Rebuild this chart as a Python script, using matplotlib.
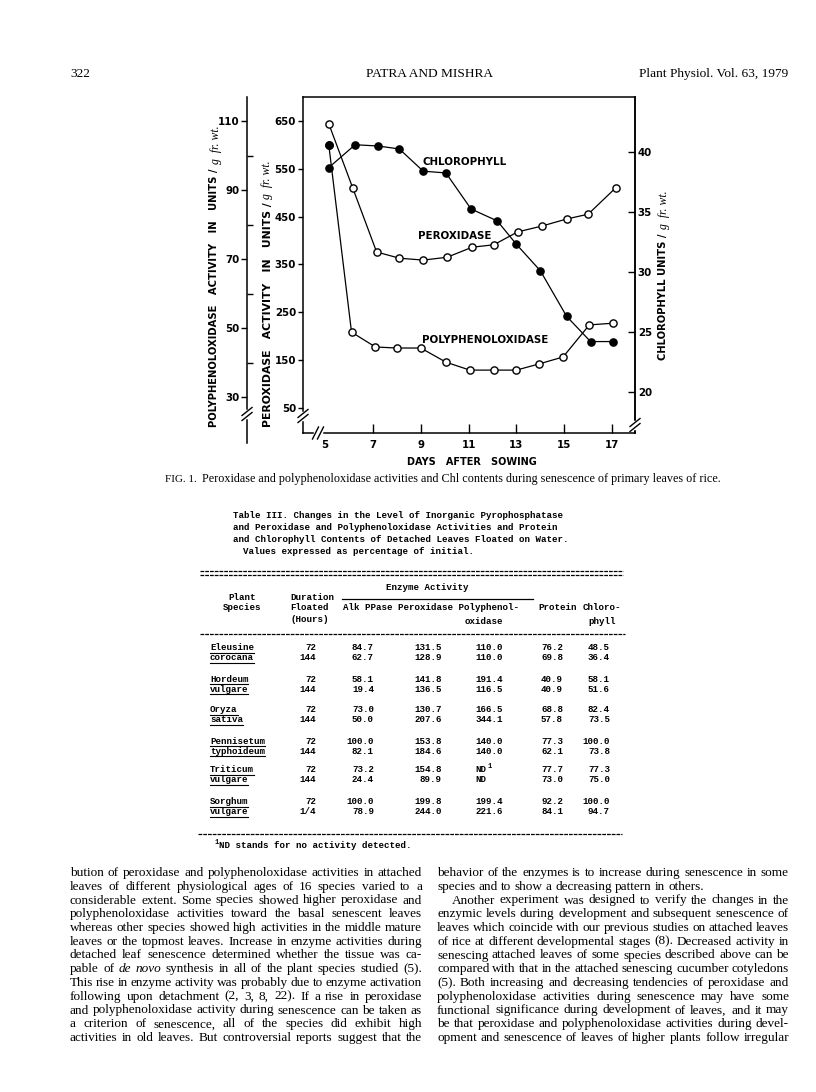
import statistics
import matplotlib
matplotlib.use("Agg")
import matplotlib.pyplot as plt
from matplotlib.lines import Line2D

plt.rcParams['mathtext.fontset'] = 'stix'

# ---------------- data (Fig. 1) ----------------
days_chl = [5.15, 6.25, 7.2, 8.1, 9.1, 10.05, 11.1, 12.2, 13.0, 14.0, 15.1, 16.1, 17.05]
chlorophyll = [38.7, 40.6, 40.5, 40.25, 38.4, 38.25, 35.25, 34.25, 32.3, 30.1, 26.3, 24.2, 24.2]
days_per = [5.15, 6.15, 7.15, 8.1, 9.1, 10.1, 11.15, 12.05, 13.05, 14.05, 15.1, 16.0, 17.15]
peroxidase = [644, 510, 376, 363, 359, 365, 386, 391, 418, 430, 445, 455, 510]
days_ppo = [5.15, 6.1, 7.1, 8.0, 9.0, 10.05, 11.05, 12.05, 13.0, 13.95, 14.95, 16.05, 17.05]
ppo = [103.0, 48.8, 44.5, 44.2, 44.2, 40.1, 37.8, 37.8, 37.8, 39.6, 41.6, 50.9, 51.4]

x_ticks = [5, 7, 9, 11, 13, 15, 17]
per_ticks = [50, 150, 250, 350, 450, 550, 650]
ppo_ticks = [30, 50, 70, 90, 110]
ppo_minor = [40, 60, 80, 100]
chl_ticks = [20, 25, 30, 35, 40]

# ---------------- data (Table III) ----------------
genus = ["Eleusine", "Hordeum", "Oryza", "Pennisetum", "Triticum", "Sorghum"]
epithet = ["corocana", "vulgare", "sativa", "typhoideum", "vulgare", "vulgare"]
duration = [["72", "144"], ["72", "144"], ["72", "144"], ["72", "144"], ["72", "144"], ["72", "1/4"]]
alk_ppase = [["84.7", "62.7"], ["58.1", "19.4"], ["73.0", "50.0"], ["100.0", "82.1"], ["73.2", "24.4"], ["100.0", "78.9"]]
perox_t = [["131.5", "128.9"], ["141.8", "136.5"], ["130.7", "207.6"], ["153.8", "184.6"], ["154.8", "89.9"], ["199.8", "244.0"]]
ppo_t = [["110.0", "110.0"], ["191.4", "116.5"], ["166.5", "344.1"], ["140.0", "140.0"], ["ND", "ND"], ["199.4", "221.6"]]
protein = [["76.2", "69.8"], ["40.9", "40.9"], ["68.8", "57.8"], ["77.3", "62.1"], ["77.7", "73.0"], ["92.2", "84.1"]]
chl_t = [["48.5", "36.4"], ["58.1", "51.6"], ["82.4", "73.5"], ["100.0", "73.8"], ["77.3", "75.0"], ["100.0", "94.7"]]

W, H, DPI = 816, 1092, 100
fig = plt.figure(figsize=(W / DPI, H / DPI), dpi=DPI)
fig.patch.set_facecolor('white')


def fx(px):
    return px / W


def fy(py):
    return 1 - py / H


SANS = 'DejaVu Sans'
SERIF = 'Liberation Serif'
MONO = 'Liberation Mono'
renderer = fig.canvas.get_renderer()

# ---------------- chart ----------------
L, R, T, B = 303, 635, 97, 433
ax = fig.add_axes([fx(L), fy(B), (R - L) / W, (B - T) / H])
ax.set_xlim(4.07, 17.96)
ax.set_ylim(-2.7, 700.2)
for s in ax.spines.values():
    s.set_linewidth(1.1)

ax_chl = ax.twinx()
ax_chl.set_ylim(16.58, 44.58)
ax_ppo = ax.twinx()
ax_ppo.set_ylim(19.57, 116.96)

lw, ms = 0.9, 5.2
ax.plot(days_per, peroxidase, '-o', color='black', lw=lw, ms=ms, mfc='white', mec='black', mew=1.0, zorder=3)
ax_ppo.plot(days_ppo, ppo, '-o', color='black', lw=lw, ms=ms, mfc='white', mec='black', mew=1.0, zorder=3)
ax_ppo.plot(days_ppo[:1], ppo[:1], 'o', color='black', ms=ms, zorder=4)
ax_chl.plot(days_chl, chlorophyll, '-o', color='black', lw=lw, ms=ms, mfc='black', mec='black', zorder=3)

tfont = dict(fontsize=7.4, fontweight='bold', family=SANS)
ax.set_xticks(x_ticks)
ax.set_xticklabels([str(v) for v in x_ticks], **tfont)
ax.tick_params(axis='x', direction='in', length=6.5, width=1.0, pad=5)
ax.xaxis.get_major_ticks()[0].tick1line.set_visible(False)
ax.set_yticks(per_ticks)
ax.set_yticklabels([str(v) for v in per_ticks], **tfont)
ax.tick_params(axis='y', direction='out', length=3.5, width=1.0, pad=1.5)

ax_chl.set_yticks(chl_ticks)
ax_chl.set_yticklabels([str(v) for v in chl_ticks], **tfont)
ax_chl.tick_params(axis='y', direction='in', length=5, width=1.0, pad=2)
for k in ['left', 'top', 'bottom']:
    ax_chl.spines[k].set_visible(False)
ax_chl.spines['right'].set_linewidth(1.1)

ax_ppo.yaxis.tick_left()
ax_ppo.yaxis.set_label_position('left')
for k in ['right', 'top', 'bottom']:
    ax_ppo.spines[k].set_visible(False)
ax_ppo.spines['left'].set_visible(True)
ax_ppo.spines['left'].set_position(('outward', 40.3))
ax_ppo.spines['left'].set_linewidth(1.1)
ax_ppo.spines['left'].set_bounds(16.7, 116.96)
ax_ppo.set_yticks(ppo_ticks)
ax_ppo.set_yticks(ppo_minor, minor=True)
ax_ppo.set_yticklabels([str(v) for v in ppo_ticks], **tfont)
ax_ppo.tick_params(axis='y', which='major', direction='out', length=4, width=1.0, pad=1.5)
ax_ppo.tick_params(axis='y', which='minor', direction='in', length=4, width=1.0)

# curve labels
lab = dict(fontsize=7.4, fontweight='bold', family=SANS, ha='center', va='center')
ax.text(10.85, 564, 'CHLOROPHYLL', **lab)
ax.text(10.43, 409, 'PEROXIDASE', **lab)
ax.text(11.69, 192, 'POLYPHENOLOXIDASE', **lab)


# vertical axis titles: bold caps part fitted to its length + italic unit part
def vlabel(x, y_bot, y_mid, main, x_it):
    t = fig.text(fx(x), fy(y_bot), main, rotation=90, ha='center', va='bottom',
                 fontsize=7, fontweight='bold', family=SANS)
    h = t.get_window_extent(renderer).height
    t.set_fontsize(7 * (y_bot - y_mid) / h)
    fig.text(fx(x_it), fy(y_mid - 3), 'g  fr. wt.', rotation=90, ha='center', va='bottom',
             fontsize=8.5, family=SERIF, style='italic')


vlabel(214, 427, 167, 'POLYPHENOLOXIDASE   ACTIVITY   IN   UNITS /', 216)
vlabel(268, 427, 202, 'PEROXIDASE   ACTIVITY   IN   UNITS /', 267)
vlabel(663, 360, 232, 'CHLOROPHYLL UNITS /', 664)
fig.text(fx(472), fy(462), 'DAYS   AFTER   SOWING', fontsize=7.0, fontweight='bold', family=SANS,
         ha='center', va='center')


# axis break marks
def brk(px, py, horizontal=False):
    if horizontal:
        fig.add_artist(Line2D([fx(px - 3), fx(px + 3)], [fy(py), fy(py)], color='white', lw=2.5))
        for d in (-2.5, 2.5):
            fig.add_artist(Line2D([fx(px + d - 3), fx(px + d + 3)], [fy(py + 6), fy(py - 6)],
                                  color='black', lw=1.0))
    else:
        fig.add_artist(Line2D([fx(px), fx(px)], [fy(py - 3), fy(py + 3)], color='white', lw=2.5))
        for d in (-2.5, 2.5):
            fig.add_artist(Line2D([fx(px - 5), fx(px + 5)], [fy(py + d + 4), fy(py + d - 4)],
                                  color='black', lw=1.0))


brk(247, 414)
brk(303, 416)
brk(318, 433, horizontal=True)
brk(635, 425)

# ---------------- page header ----------------
fig.text(fx(70), fy(74), '322', fontsize=9.6, family=SERIF, ha='left', va='center')
fig.text(fx(429), fy(74), 'PATRA AND MISHRA', fontsize=9.6, family=SERIF, ha='center', va='center')
fig.text(fx(788), fy(74), 'Plant Physiol. Vol. 63, 1979', fontsize=9.6, family=SERIF, ha='right', va='center')

# caption
cap_y = 479
t1 = fig.text(fx(165), fy(cap_y), 'FIG. 1.', fontsize=8.0, family=SERIF, ha='left', va='center')
w1 = t1.get_window_extent(renderer).width
fig.text(fx(165 + w1 + 5), fy(cap_y),
         'Peroxidase and polyphenoloxidase activities and Chl contents during senescence of primary leaves of rice.',
         fontsize=8.7, family=SERIF, ha='left', va='center')

# ---------------- Table III ----------------
mono = dict(family=MONO, fontweight='bold', fontsize=6.6, va='center')
title_lines = ["Table III. Changes in the Level of Inorganic Pyrophosphatase",
               "and Peroxidase and Polyphenoloxidase Activities and Protein",
               "and Chlorophyll Contents of Detached Leaves Floated on Water."]
for i, ln in enumerate(title_lines):
    fig.text(fx(233), fy(515 + 12 * i), ln, ha='left', **mono)
fig.text(fx(243), fy(551), 'Values expressed as percentage of initial.', ha='left', **mono)


def dash(x0, x1, y, lwid=0.9):
    fig.add_artist(Line2D([fx(x0), fx(x1)], [fy(y), fy(y)], color='black', lw=lwid,
                          linestyle=(0, (3.0, 0.8))))


dash(200, 623, 571)
dash(200, 623, 575)
fig.text(fx(427), fy(588), 'Enzyme Activity', ha='center', **mono)
fig.add_artist(Line2D([fx(342), fx(533)], [fy(599), fy(599)], color='black', lw=0.9))
fig.text(fx(242), fy(597), 'Plant', ha='center', **mono)
fig.text(fx(242), fy(608), 'Species', ha='center', **mono)
fig.text(fx(290), fy(598), 'Duration', ha='left', **mono)
fig.text(fx(290), fy(608), 'Floated', ha='left', **mono)
fig.text(fx(290), fy(619), '(Hours)', ha='left', **mono)
fig.text(fx(343), fy(608), 'Alk PPase Peroxidase Polyphenol-', ha='left', **mono)
fig.text(fx(465), fy(621), 'oxidase', ha='left', **mono)
fig.text(fx(538), fy(608), 'Protein', ha='left', **mono)
fig.text(fx(583), fy(608), 'Chloro-', ha='left', **mono)
fig.text(fx(588), fy(621), 'phyll', ha='left', **mono)
dash(200, 625, 634)

row_y = [648, 679, 710, 741, 770, 802]
cols = [(duration, 316), (alk_ppase, 374), (perox_t, 442), (protein, 563), (chl_t, 610)]
for i, y0 in enumerate(row_y):
    for j, name in enumerate([genus[i], epithet[i]]):
        yy = y0 + 10 * j
        t = fig.text(fx(210), fy(yy), name, ha='left', **mono)
        wd = t.get_window_extent(renderer).width
        fig.add_artist(Line2D([fx(210), fx(210 + wd)], [fy(yy + 5), fy(yy + 5)], color='black', lw=0.8))
        for arr, xr in cols:
            fig.text(fx(xr), fy(yy), arr[i][j], ha='right', **mono)
        v = ppo_t[i][j]
        if v == 'ND':
            fig.text(fx(475), fy(yy), v, ha='left', **mono)
            if j == 0:
                fig.text(fx(487), fy(yy - 4), '1', ha='left', family=MONO, fontweight='bold', fontsize=5, va='center')
        else:
            fig.text(fx(503), fy(yy), v, ha='right', **mono)

dash(198, 622, 834)
fig.text(fx(214), fy(842), '1', ha='left', family=MONO, fontweight='bold', fontsize=5, va='center')
fig.text(fx(219), fy(845), 'ND stands for no activity detected.', ha='left', **mono)

# ---------------- body text ----------------
left_lines = [
    "bution of peroxidase and polyphenoloxidase activities in attached",
    "leaves of different physiological ages of 16 species varied to a",
    "considerable extent. Some species showed higher peroxidase and",
    "polyphenoloxidase activities toward the basal senescent leaves",
    "whereas other species showed high activities in the middle mature",
    "leaves or the topmost leaves. Increase in enzyme activities during",
    "detached leaf senescence determined whether the tissue was ca-",
    "pable of *de *novo synthesis in all of the plant species studied (5).",
    "This rise in enzyme activity was probably due to enzyme activation",
    "following upon detachment (2, 3, 8, 22). If a rise in peroxidase",
    "and polyphenoloxidase activity during senescence can be taken as",
    "a criterion of senescence, all of the species did exhibit high",
    "activities in old leaves. But controversial reports suggest that the",
]
right_lines = [
    "behavior of the enzymes is to increase during senescence in some",
    "species and to show a decreasing pattern in others.",
    "Another experiment was designed to verify the changes in the",
    "enzymic levels during development and subsequent senescence of",
    "leaves which coincide with our previous studies on attached leaves",
    "of rice at different developmental stages (8). Decreased activity in",
    "senescing attached leaves of some species described above can be",
    "compared with that in the attached senescing cucumber cotyledons",
    "(5). Both increasing and decreasing tendencies of peroxidase and",
    "polyphenoloxidase activities during senescence may have some",
    "functional significance during development of leaves, and it may",
    "be that peroxidase and polyphenoloxidase activities during devel-",
    "opment and senescence of leaves of higher plants follow irregular",
]
COLW = 352


def nat_width(line, size):
    t = fig.text(0, 0, line.replace('*', ''), fontsize=size, family=SERIF)
    w = t.get_window_extent(renderer).width
    t.remove()
    return w


ws = [nat_width(ln, 10) for ln in left_lines + right_lines[:1] + right_lines[3:]]
BODY = 10 * 0.985 * COLW / statistics.median(ws)


def place_line(line, x0, x1, y, justify=True, indent=0.0):
    objs, widths = [], []
    for w in line.split(' '):
        italic = w.startswith('*')
        w = w.lstrip('*')
        t = fig.text(0, fy(y), w, fontsize=BODY, family=SERIF, style='italic' if italic else 'normal',
                     ha='left', va='center')
        widths.append(t.get_window_extent(renderer).width)
        objs.append(t)
    start = x0 + indent
    if justify and len(objs) > 1:
        gap = (x1 - start - sum(widths)) / (len(objs) - 1)
    else:
        gap = BODY * DPI / 72 * 0.25
    x = start
    for t, w in zip(objs, widths):
        t.set_x(fx(x))
        x += w + gap


LINE0, LSTEP = 873, 13.75
for i, ln in enumerate(left_lines):
    place_line(ln, 70, 70 + COLW, LINE0 + LSTEP * i)
for i, ln in enumerate(right_lines):
    place_line(ln, 437, 437 + COLW, LINE0 + LSTEP * i, justify=(i != 1), indent=(15 if i == 2 else 0))

fig.savefig('out.png', dpi=DPI, facecolor='white')
